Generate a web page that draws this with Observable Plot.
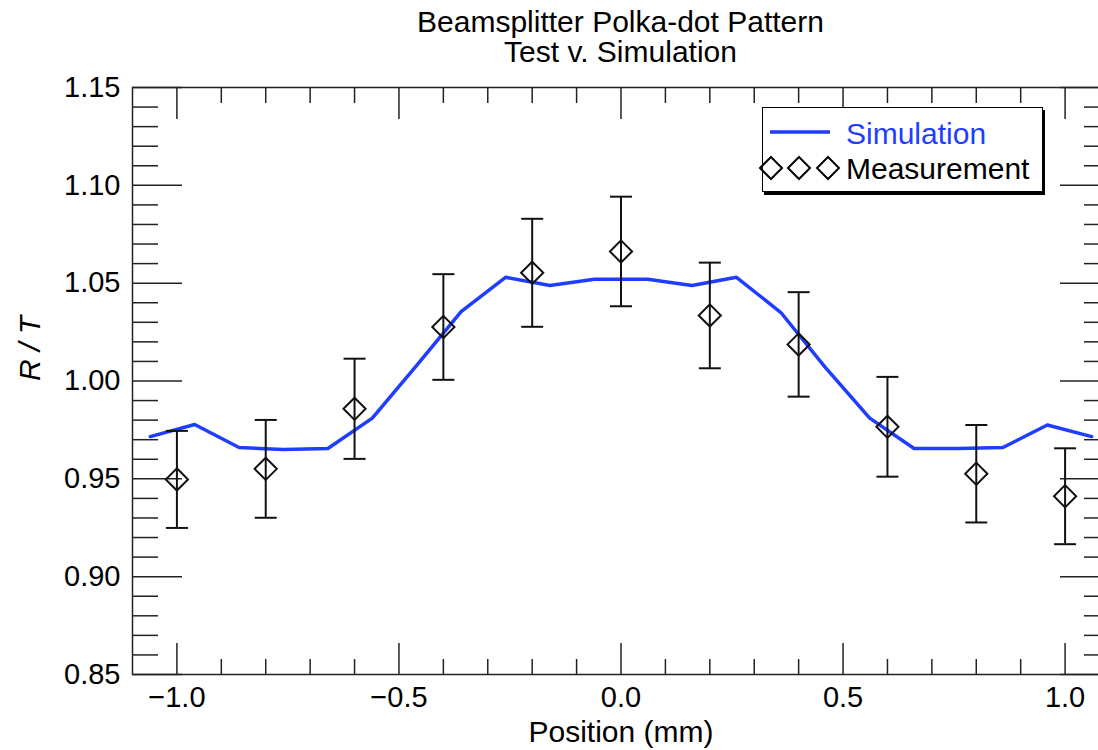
<!DOCTYPE html>
<html><head><meta charset="utf-8">
<script src="https://cdn.jsdelivr.net/npm/d3@7"></script>
<script src="https://cdn.jsdelivr.net/npm/@observablehq/plot@0.6"></script>
<style>
html,body{margin:0;padding:0;background:#fff;overflow:hidden;width:1098px;height:750px;}
body{position:relative;font-family:"Liberation Sans",Arial,Helvetica,sans-serif;color:#000;}
#title{width:1241px;height:67px;padding-top:7px;box-sizing:border-box;text-align:center;font-size:30px;line-height:30px;}
#chart svg{max-width:none !important;height:683px !important;display:block;}
#legend{position:absolute;left:762px;top:107px;width:281px;height:85px;box-sizing:border-box;border:1.5px solid #000;background:#fff;box-shadow:2px 3px 0 #000;z-index:5;}
#legend .t{position:absolute;left:83px;font-size:30px;line-height:30px;white-space:nowrap;}
#legend svg{position:absolute;left:-1.5px;top:-1.5px;overflow:visible;}
</style></head><body>
<div id="title">Beamsplitter Polka-dot Pattern<br>Test v. Simulation</div>
<div id="chart"></div>
<div id="legend">
  <svg width="281" height="85">
    <line x1="8" x2="68" y1="25" y2="25" stroke="#1f3dff" stroke-width="3.5"/>
    <g fill="none" stroke="#000" stroke-width="2">
      <path d="M9,50 L20,61 L9,72 L-2,61 Z"/>
      <path d="M37,50 L48,61 L37,72 L26,61 Z"/>
      <path d="M66,50 L77,61 L66,72 L55,61 Z"/>
    </g>
  </svg>
  <div class="t" style="top:11px;color:#1f3dff">Simulation</div>
  <div class="t" style="top:46px;">Measurement</div>
</div>
<script>
// ---- data ----
const simX = [-1.06,-0.96,-0.86,-0.76,-0.66,-0.56,-0.46,-0.36,-0.26,-0.16,-0.06,0.06,0.16,0.26,0.36,0.46,0.56,0.66,0.76,0.86,0.96,1.06];
const simY = [0.9716,0.9778,0.966,0.965,0.9655,0.981,1.008,1.0355,1.053,1.0488,1.052,1.052,1.0488,1.053,1.035,1.007,0.981,0.9655,0.9655,0.966,0.9775,0.9716];
const measX = [-1.0,-0.8,-0.6,-0.4,-0.2,0.0,0.2,0.4,0.6,0.8,1.0];
const measY = [0.9497,0.9551,0.9858,1.0276,1.0553,1.0662,1.0335,1.0187,0.9766,0.9526,0.9411];
const measErr = [0.0248,0.025,0.0256,0.027,0.0276,0.028,0.027,0.0267,0.0255,0.0249,0.0245];
const xMajor = [-1.0,-0.5,0.0,0.5,1.0];
const xTickLabels = ["\u22121.0","\u22120.5","0.0","0.5","1.0"];
const xMinor = [-0.9,-0.8,-0.7,-0.6,-0.4,-0.3,-0.2,-0.1,0.1,0.2,0.3,0.4,0.6,0.7,0.8,0.9];
const yMajor = [0.85,0.90,0.95,1.00,1.05,1.10,1.15];
const yTickLabels = ["0.85","0.90","0.95","1.00","1.05","1.10","1.15"];
const yMinor = [0.86,0.87,0.88,0.89,0.91,0.92,0.93,0.94,0.96,0.97,0.98,0.99,1.01,1.02,1.03,1.04,1.06,1.07,1.08,1.09,1.11,1.12,1.13,1.14];
const xDomain = [-1.1, 1.1];
const yDomain = [0.85, 1.15];

const sim = simX.map((x, i) => ({x, y: simY[i]}));
const meas = measX.map((x, i) => ({x, y: measY[i], e: measErr[i]}));

const cap = {draw(ctx, size) { const h = Math.sqrt(size / Math.PI); ctx.moveTo(-h, 0); ctx.lineTo(h, 0); }};
const tk = {stroke: "#222", strokeWidth: 1.5, tickFormat: () => "", label: null};

const chart = Plot.plot({
  width: 1120, height: 683,
  marginLeft: 132, marginRight: 11, marginTop: 20, marginBottom: 76,
  x: {domain: xDomain},
  y: {domain: yDomain},
  style: {fontFamily: '"Liberation Sans", Arial, Helvetica, sans-serif', fontSize: "29px", color: "#000", background: "transparent", overflow: "visible", maxWidth: "none"},
  marks: [
    // ticks, inward
    Plot.axisY(yMajor, {anchor: "left", tickSize: 50, dx: 50, ...tk}),
    Plot.axisY(yMinor, {anchor: "left", tickSize: 26, dx: 26, ...tk}),
    Plot.axisY(yMajor, {anchor: "right", tickSize: 50, dx: -50, ...tk}),
    Plot.axisY(yMinor, {anchor: "right", tickSize: 26, dx: -26, ...tk}),
    Plot.axisX(xMajor, {anchor: "bottom", tickSize: 31, dy: -31, ...tk}),
    Plot.axisX(xMinor, {anchor: "bottom", tickSize: 15, dy: -15, ...tk}),
    Plot.axisX(xMajor, {anchor: "top", tickSize: 31, dy: 31, ...tk}),
    Plot.axisX(xMinor, {anchor: "top", tickSize: 15, dy: 15, ...tk}),
    // tick labels
    Plot.axisY(yMajor, {anchor: "left", tickSize: 0, tickPadding: 12, fontSize: 29, label: null,
      tickFormat: d => yTickLabels[yMajor.indexOf(d)]}),
    Plot.axisX(xMajor, {anchor: "bottom", tickSize: 0, tickPadding: 12, fontSize: 29, label: null,
      tickFormat: d => xTickLabels[xMajor.indexOf(d)]}),
    Plot.frame({stroke: "#222", strokeWidth: 1.5}),
    // axis titles
    Plot.text(["Position (mm)"], {text: d => d, frameAnchor: "bottom", dy: 67, fontSize: 30}),
    Plot.text(["R / T"], {text: d => d, frameAnchor: "left", dx: -102, rotate: -90, fontSize: 30, fontStyle: "italic"}),
    // simulation
    Plot.line(sim, {x: "x", y: "y", stroke: "#1f3dff", strokeWidth: 3.5}),
    // measurement with error bars
    Plot.ruleX(meas, {x: "x", y1: d => d.y - d.e, y2: d => d.y + d.e, stroke: "#111", strokeWidth: 2}),
    Plot.dot(meas, {x: "x", y: d => d.y + d.e, symbol: cap, r: 11, stroke: "#111", strokeWidth: 2, fill: "none"}),
    Plot.dot(meas, {x: "x", y: d => d.y - d.e, symbol: cap, r: 11, stroke: "#111", strokeWidth: 2, fill: "none"}),
    Plot.dot(meas, {x: "x", y: "y", symbol: "diamond2", r: 10, stroke: "#111", strokeWidth: 2, fill: "none"})
  ]
});
document.getElementById("chart").appendChild(chart);
</script>
</body></html>
